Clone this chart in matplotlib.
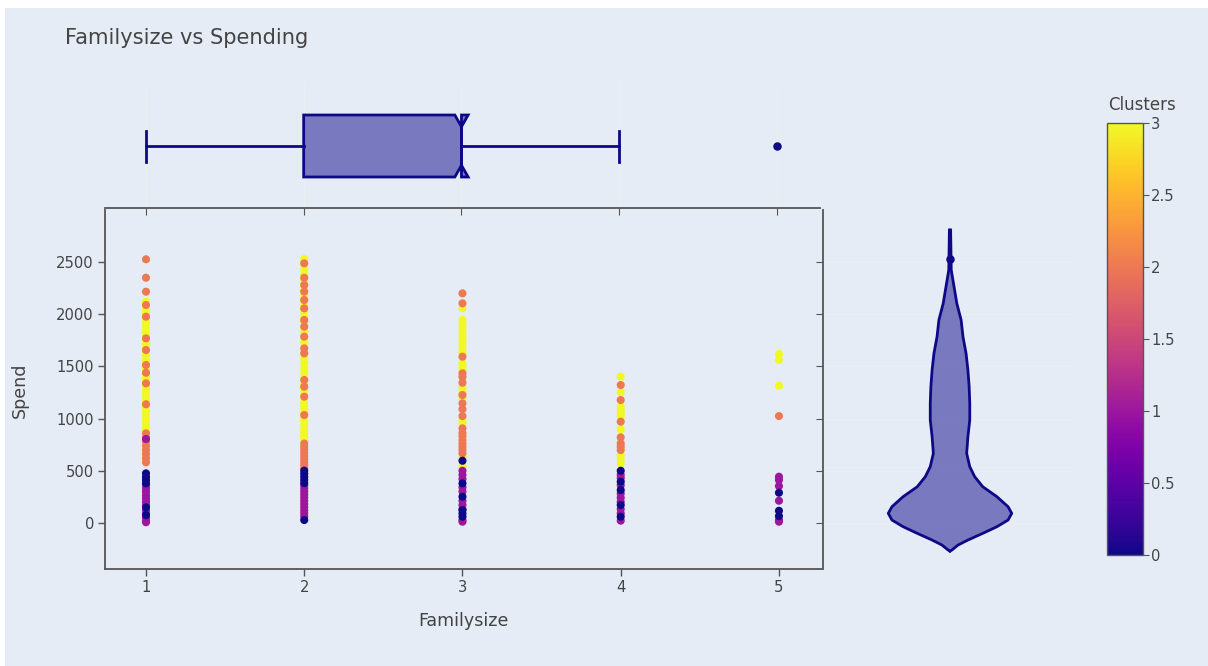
import matplotlib
matplotlib.use("Agg")
import matplotlib.pyplot as plt
from matplotlib.patches import Polygon, Rectangle
from matplotlib.colors import Normalize
from matplotlib import cm

plt.rcParams['font.family'] = ['DejaVu Sans']

# spend values per cluster, keyed by family size
cluster0 = {
    1: [474, 440, 410, 378, 148, 74],
    2: [500, 470, 440, 410, 380, 26],
    3: [595, 378, 250, 122, 90, 58],
    4: [499, 394, 314, 170, 58],
    5: [288, 115, 64],
}
cluster1 = {
    1: [804, 360, 330, 300, 260, 230, 200, 170, 120, 90, 50, 20, 5],
    2: [360, 330, 300, 270, 240, 210, 180, 150, 120, 90, 60],
    3: [499, 460, 420, 340, 300, 210, 170, 130, 26, 10],
    4: [460, 430, 360, 280, 240, 200, 130, 90, 20],
    5: [442, 410, 352, 211, 26, 10],
}
cluster2 = {
    1: [2529, 2352, 2218, 2090, 1978, 1770, 1658, 1514, 1440, 1338, 1137,
        858, 820, 780, 740, 700, 660, 620, 580, 282],
    2: [2490, 2352, 2282, 2218, 2138, 2058, 1946, 1882, 1786, 1674, 1626,
        1370, 1306, 1210, 1034, 760, 730, 700, 670, 640, 610, 580, 550, 520],
    3: [2202, 2106, 1594, 1434, 1400, 1344, 1226, 1146, 1090, 1024, 906,
        860, 830, 794, 760, 730, 700, 666],
    4: [1322, 1178, 970, 820, 762, 730, 698],
    5: [1024],
}
cluster3 = {
    1: [2122, 2080, 2040, 2000, 1960, 1920, 1880, 1840, 1800, 1760, 1720,
        1680, 1640, 1600, 1560, 1520, 1480, 1440, 1400, 1360, 1320, 1280,
        1240, 1200, 1160, 1120, 1080, 1040, 1000, 960, 920, 880, 690, 640],
    2: [2529, 2480, 2430, 2380, 2330, 2280, 2230, 2180, 2130, 2080, 2030,
        1980, 1930, 1880, 1830, 1780, 1730, 1680, 1630, 1580, 1530, 1480,
        1430, 1380, 1330, 1280, 1230, 1180, 1140, 1100, 1060, 1020, 980,
        940, 900, 860, 820, 790],
    3: [2058, 1946, 1914, 1870, 1830, 1790, 1750, 1710, 1670, 1626, 1530,
        1500, 1466, 1306, 1274, 1242, 1190, 986, 957, 630, 538],
    4: [1402, 1252, 1114, 1080, 1050, 1018, 897, 650, 610, 570],
    5: [1620, 1562, 1315],
}
clusters = [cluster3, cluster2, cluster1, cluster0]
cluster_ids = [3, 2, 1, 0]

# marginal box (family size)
box_whislo = 1
box_q1 = 2
box_median = 3
box_q3 = 3
box_whishi = 4
box_outliers = [5]

# marginal violin (spend): level and relative half-width
violin_spend = [2810, 2426, 2266, 2106, 1946, 1786, 1626, 1466, 1306, 1146,
                986, 826, 666, 538, 442, 346, 250, 154, 90, 26, -38, -102,
                -166, -214, -262, -272]
violin_width = [0.01, 0.02, 0.065, 0.11, 0.18, 0.21, 0.26, 0.29, 0.31, 0.32,
                0.32, 0.29, 0.27, 0.32, 0.40, 0.53, 0.76, 0.94, 1.0, 0.94,
                0.76, 0.53, 0.29, 0.13, 0.03, 0.0]
violin_outliers = [2529]

W, H = 1208, 666
bg = '#E5ECF6'
navy = '#0d0887'
txt = '#444444'
axc = '#555555'
grid = '#ECEEF2'
tick_fs = 10.6

fig = plt.figure(figsize=(W / 100, H / 100), dpi=100, facecolor='white')
fig.patches.append(Rectangle((5 / W, 0), 1, 1 - 8 / H, transform=fig.transFigure,
                             facecolor=bg, edgecolor='none', zorder=-10))


def box_px(l, t, r, b):
    return [l / W, 1 - b / H, (r - l) / W, (b - t) / H]


xlim = (0.741, 5.272)
ylim = (-444, 3002)

# main scatter
ax = fig.add_axes(box_px(105, 210, 822, 569))
ax.set_facecolor('none')
cmap = matplotlib.colormaps['plasma']
norm = Normalize(0, 3)
for cl, cid in zip(clusters, cluster_ids):
    for fam, vals in cl.items():
        ax.scatter([fam] * len(vals), vals, s=34, color=cmap(norm(cid)),
                   edgecolors='none', zorder=3)
ax.set_xlim(*xlim)
ax.set_ylim(*ylim)
ax.set_xticks([1, 2, 3, 4, 5])
ax.set_yticks([0, 500, 1000, 1500, 2000, 2500])
for s in ['top', 'right']:
    ax.spines[s].set_visible(False)
for s in ['left', 'bottom']:
    ax.spines[s].set_color(axc)
    ax.spines[s].set_linewidth(1.3)
ax.tick_params(length=5, width=1, color=axc, labelcolor=txt,
               labelsize=tick_fs, pad=3)
fig.text(463 / W, 1 - 621 / H, 'Familysize', ha='center', va='center',
         fontsize=12.6, color=txt)
fig.text(20 / W, 1 - 390 / H, 'Spend', ha='center', va='center',
         rotation=90, fontsize=12.6, color=txt)

# top box
axb = fig.add_axes(box_px(105, 84, 820, 208))
axb.set_facecolor('none')
axb.set_xlim(*xlim)
axb.set_ylim(-0.5, 0.5)
hw, cap, ind, ns = 0.25, 0.125, 0.095, 0.042
poly = [(box_q1, hw), (box_median - ns, hw), (box_median, hw - ind),
        (box_median + ns, hw), (box_q3, hw), (box_q3, -hw),
        (box_median + ns, -hw), (box_median, -hw + ind),
        (box_median - ns, -hw), (box_q1, -hw)]
axb.add_patch(Polygon(poly, closed=True, facecolor=navy, alpha=0.5,
                      edgecolor='none', zorder=2))
axb.add_patch(Polygon(poly, closed=True, facecolor='none', edgecolor=navy,
                      lw=2, joinstyle='miter', zorder=3))
axb.plot([box_median, box_median], [hw - ind, -hw + ind], color=navy, lw=2, zorder=3)
axb.plot([box_whislo, box_q1], [0, 0], color=navy, lw=2)
axb.plot([box_q3, box_whishi], [0, 0], color=navy, lw=2)
axb.plot([box_whislo, box_whislo], [-cap, cap], color=navy, lw=2)
axb.plot([box_whishi, box_whishi], [-cap, cap], color=navy, lw=2)
axb.scatter(box_outliers, [0] * len(box_outliers), s=26, color=navy, zorder=4)
axb.set_xticks([1, 2, 3, 4, 5])
axb.set_yticks([])
axb.grid(axis='x', color=grid, lw=1)
axb.set_axisbelow(True)
for s in ['top', 'right', 'left']:
    axb.spines[s].set_visible(False)
axb.spines['bottom'].set_color(axc)
axb.spines['bottom'].set_linewidth(1.3)
axb.tick_params(axis='x', length=5, color=axc, labelbottom=False)

# right violin
axv = fig.add_axes(box_px(823, 210, 1075, 569))
axv.set_facecolor('none')
axv.set_xlim(-1, 1)
axv.set_ylim(*ylim)
vx = [w * 0.49 for w in violin_width]
cx = 0.008
axv.fill_betweenx(violin_spend, [cx - v for v in vx], [cx + v for v in vx],
                  facecolor=navy, alpha=0.5, edgecolor='none', zorder=2)
axv.plot([cx - v for v in vx], violin_spend, color=navy, lw=2, zorder=3,
         solid_joinstyle='round')
axv.plot([cx + v for v in vx], violin_spend, color=navy, lw=2, zorder=3,
         solid_joinstyle='round')
axv.scatter([cx] * len(violin_outliers), violin_outliers, s=26, color=navy, zorder=4)
axv.set_xticks([])
axv.set_yticks([0, 500, 1000, 1500, 2000, 2500])
axv.grid(axis='y', color=grid, lw=1)
axv.set_axisbelow(True)
for s in ['top', 'right', 'bottom']:
    axv.spines[s].set_visible(False)
axv.spines['left'].set_color(axc)
axv.spines['left'].set_linewidth(1.3)
axv.tick_params(axis='y', length=5, color=axc, labelleft=False)

# colorbar
cax = fig.add_axes(box_px(1107, 123, 1143, 555))
cb = fig.colorbar(cm.ScalarMappable(norm=norm, cmap=cmap), cax=cax)
cb.set_ticks([0, 0.5, 1, 1.5, 2, 2.5, 3])
cb.set_ticklabels(['0', '0.5', '1', '1.5', '2', '2.5', '3'])
cb.outline.set_edgecolor(axc)
cb.outline.set_linewidth(1)
cax.tick_params(length=4, color=axc, labelcolor=txt, labelsize=tick_fs, pad=2)
fig.text(1142 / W, 1 - 105 / H, 'Clusters', ha='center', va='center',
         fontsize=12, color=txt)

fig.text(65 / W, 1 - 38 / H, 'Familysize vs Spending', ha='left', va='center',
         fontsize=15.1, color=txt)

fig.savefig('out.png', dpi=100, facecolor=fig.get_facecolor())
